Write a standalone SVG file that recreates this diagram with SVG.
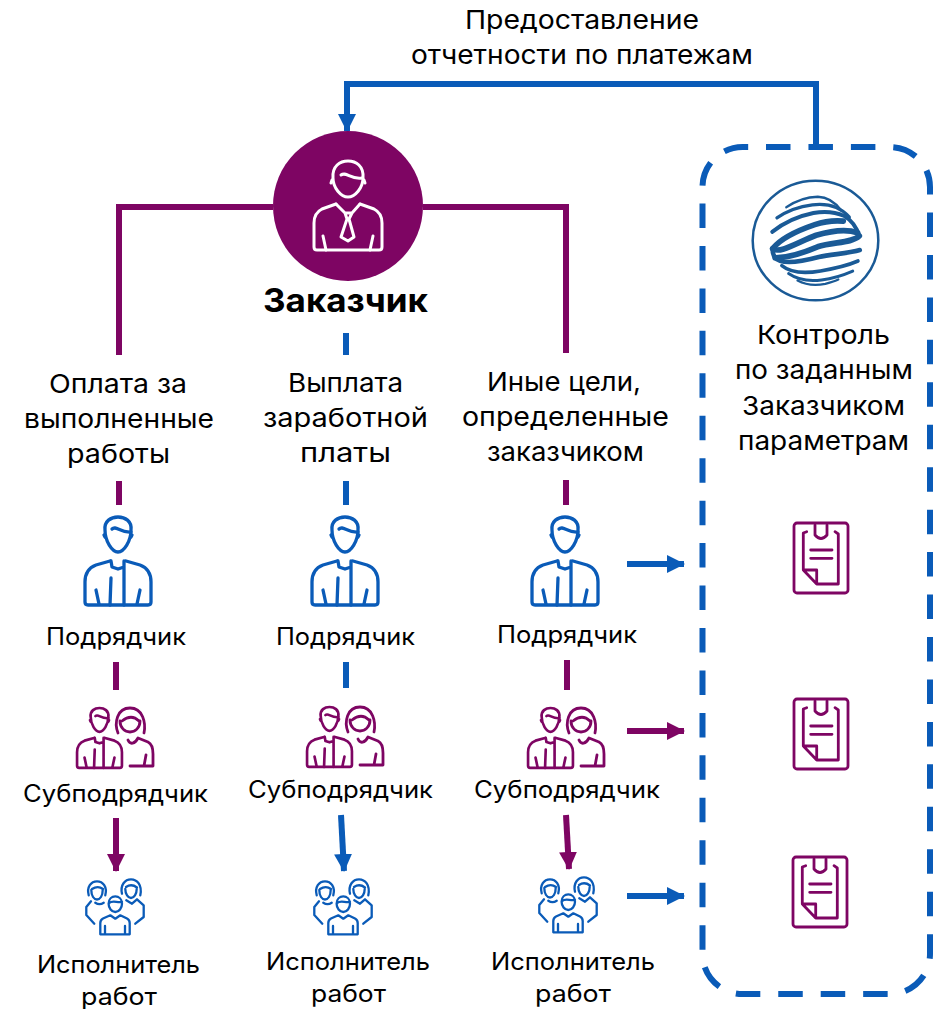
<svg xmlns="http://www.w3.org/2000/svg" xmlns:xlink="http://www.w3.org/1999/xlink" width="941" height="1009" viewBox="0 0 941 1009">
<style>
text{font-family:"Inter","Noto Sans","Liberation Sans",sans-serif;fill:#000;text-anchor:start}
.l{font-size:26px}.s{font-size:24px}
.ic{fill:none;stroke:currentColor;stroke-linecap:round;stroke-linejoin:round}
.b{color:#0a5bb8}.p{color:#7e0563}
.cb{fill:none;stroke:#0a5bb8;stroke-width:6}
.cp{fill:none;stroke:#7e0563;stroke-width:6}
.sw{fill:none;stroke:#1a5a96;stroke-linecap:round}
</style>
<defs>
<marker id="ab" markerUnits="userSpaceOnUse" markerWidth="20" markerHeight="20" refX="17" refY="10" orient="auto"><path d="M0,1L18,10L0,19Z" fill="#0a5bb8"/></marker>
<marker id="ap" markerUnits="userSpaceOnUse" markerWidth="20" markerHeight="20" refX="17" refY="10" orient="auto"><path d="M0,1L18,10L0,19Z" fill="#7e0563"/></marker>
<g id="man">
<path d="M-13,13C-14,4-7,0 0,0C7,0 14,4 13,13C13,24 6,35 0,35C-6,35-13,24-13,13Z"/>
<path d="M-14,18L-13,20M14,18L13,20M-6,12C-2,8 2,16 13,15"/>
<path d="M-8,44L-22,48C-30,51-33,57-33,65L-33,85Q-33,88-30,88L30,88Q33,88 33,85L33,65C33,57 30,51 22,48L8,44"/>
<path d="M-7,44L-6,50L0,52L6,50L6,44M-7,61L-8,88M6,50L6,88M-22,73L-19,87M22,73L19,87"/>
</g>
<g id="doc">
<rect x="0" y="0" width="54" height="70" rx="3"/>
<path d="M12.700,8.700L9.300,10L9.300,47L22.700,61L44.300,61L44.300,11L41,8.700M21,2L21,12Q27,19 33,12L33,2M16.700,27L38,27M16.700,35.300L38,35.300M9.300,47L22.700,47L22.700,61"/>
</g>
<g id="pair">
<use xlink:href="#man" transform="translate(22.500,0) scale(.68)" stroke-width="3.900"/>
<path d="M43,13C43,20 48,24 53,24C58,24 63,20 63,13"/>
<path d="M41,25C37,15 40,0 53,0C66,0 69,15 67,25M45,13C50,9 56,7 62,13"/>
<path d="M51,32C53,37 58,36 61,30L71,34C75,36 76,40 76,46L76,58L53,58M69,47L67,58"/>
</g>
<g id="crew">
<path d="M23.600,24.700C23.600,15 37,15 37,24.700C37,29 34,33 30.300,33C26.600,33 23.600,29 23.600,24.700ZM24,24C28,21 32,24 37,23"/>
<path d="M25.300,36.300L18,39.500C16,40.500 15.300,42 15.300,44L15.300,55.300L44.700,55.300L44.700,44C44.700,42 44,40.500 42,39.500L35.300,36.300L30.300,39.700ZM20,47L20,55M40,47L40,55"/>
<path d="M6.300,11C6.300,17 9,20.500 12,20.500C15,20.500 17.700,17 17.700,11M3.700,16.300C1.500,8 6,2.300 12,2.300C18,2.300 22.500,8 20.300,16.300M7,10C10,8 14,7 18,10"/>
<path d="M6,22.300L1.300,28L1.300,36L9.300,44.700M10.300,23.700Q14.500,26.500 18.700,23.700"/>
<path d="M40.300,10C40.300,15 43,19 46,19C49,19 51.700,15 51.700,10M37,14.700C35,6 40,0.300 46,0.300C52,0.300 57.500,6 55.300,16.300M41,8C44,6 48,5.500 52,8.500"/>
<path d="M41.300,21.300L47,24.700L52,20.300L58.700,26.300L58.700,38L50.300,44.700"/>
</g>
</defs>

<g id="connectors">
<path class="cb" d="M816,147L816,84L347,84L347,131" marker-end="url(#ab)"/>
<path class="cp" d="M273,207L119,207L119,355"/>
<path class="cp" d="M423,207L566,207L566,353"/>
<path class="cb" d="M346,333L346,355"/>
<path class="cp" d="M119,481L119,505"/><path class="cb" d="M346,481L346,505"/><path class="cp" d="M566,480L566,505"/>
<path class="cp" d="M116,662L116,690"/><path class="cb" d="M346,662L346,688"/><path class="cp" d="M567,660L567,690"/>
<path class="cp" d="M116,818L116,871" marker-end="url(#ap)"/>
<path class="cb" d="M341,815L344,871" marker-end="url(#ab)"/>
<path class="cp" d="M566,815L569,869" marker-end="url(#ap)"/>
<path class="cb" d="M627,564L684,564" marker-end="url(#ab)"/>
<path class="cp" d="M627,731L684,731" marker-end="url(#ap)"/>
<path class="cb" d="M627,896L684,896" marker-end="url(#ab)"/>
</g>

<g id="report-label">
<text class="l" x="465" y="29" textLength="234" lengthAdjust="spacingAndGlyphs">Предоставление</text>
<text class="l" x="411" y="64" textLength="342" lengthAdjust="spacingAndGlyphs">отчетности по платежам</text>
</g>

<g id="customer">
<circle cx="348" cy="206" r="75" fill="#7e0563"/>
<g class="ic" style="color:#fff" stroke-width="3">
<path d="M333,178C332,166 340,161 348,161C356,161 364,166 363,178C363,188 355,197 348,197C341,197 333,188 333,178Z"/>
<path d="M332,180L331,183M364,180L365,183M341,175C346,171 351,180 362,178"/>
<path d="M336,204L322,209C316,212 314,217 314,223L314,247Q314,250 317,250L379,250Q382,250 382,247L382,223C382,217 380,212 374,209L360,204"/>
<path d="M336,204L345,213L352,213L360,204M345,213L347,219L341,237L348,241L354,237L349,219L352,213M323,236L326,250M373,236L370,250"/>
</g>
<text x="263" y="312" font-size="33" font-weight="700" textLength="165" lengthAdjust="spacingAndGlyphs">Заказчик</text>
</g>

<g id="purpose-1">
<text class="l" x="49" y="393" textLength="138" lengthAdjust="spacingAndGlyphs">Оплата за</text>
<text class="l" x="24" y="428" textLength="190" lengthAdjust="spacingAndGlyphs">выполненные</text>
<text class="l" x="67" y="463" textLength="103" lengthAdjust="spacingAndGlyphs">работы</text>
</g>
<g id="purpose-2">
<text class="l" x="288" y="392" textLength="115" lengthAdjust="spacingAndGlyphs">Выплата</text>
<text class="l" x="263" y="427" textLength="165" lengthAdjust="spacingAndGlyphs">заработной</text>
<text class="l" x="300" y="462" textLength="91" lengthAdjust="spacingAndGlyphs">платы</text>
</g>
<g id="purpose-3">
<text class="l" x="487" y="391" textLength="154" lengthAdjust="spacingAndGlyphs">Иные цели,</text>
<text class="l" x="462" y="426" textLength="207" lengthAdjust="spacingAndGlyphs">определенные</text>
<text class="l" x="487" y="461" textLength="157" lengthAdjust="spacingAndGlyphs">заказчиком</text>
</g>

<g id="contractor-1"><use xlink:href="#man" class="ic b" stroke-width="3.300" x="118" y="517"/><text class="s" x="46" y="645" textLength="140" lengthAdjust="spacingAndGlyphs">Подрядчик</text></g>
<g id="contractor-2"><use xlink:href="#man" class="ic b" stroke-width="3.300" x="345" y="517"/><text class="s" x="276" y="645" textLength="139" lengthAdjust="spacingAndGlyphs">Подрядчик</text></g>
<g id="contractor-3"><use xlink:href="#man" class="ic b" stroke-width="3.300" x="565" y="517"/><text class="s" x="497" y="643" textLength="140" lengthAdjust="spacingAndGlyphs">Подрядчик</text></g>

<g id="subcontractor-1"><use xlink:href="#pair" class="ic p" stroke-width="2.800" x="77" y="708"/><text class="s" x="23" y="802" textLength="185" lengthAdjust="spacingAndGlyphs">Субподрядчик</text></g>
<g id="subcontractor-2"><use xlink:href="#pair" class="ic p" stroke-width="2.800" x="307" y="707"/><text class="s" x="248" y="798" textLength="185" lengthAdjust="spacingAndGlyphs">Субподрядчик</text></g>
<g id="subcontractor-3"><use xlink:href="#pair" class="ic p" stroke-width="2.800" x="528" y="708"/><text class="s" x="474" y="798" textLength="186" lengthAdjust="spacingAndGlyphs">Субподрядчик</text></g>

<g id="worker-1"><use xlink:href="#crew" class="ic b" stroke-width="2.300" x="85" y="879"/><text class="s" x="37" y="973" textLength="163" lengthAdjust="spacingAndGlyphs">Исполнитель</text><text class="s" x="81" y="1005" textLength="76" lengthAdjust="spacingAndGlyphs">работ</text></g>
<g id="worker-2"><use xlink:href="#crew" class="ic b" stroke-width="2.300" x="313" y="879"/><text class="s" x="266" y="970" textLength="164" lengthAdjust="spacingAndGlyphs">Исполнитель</text><text class="s" x="311" y="1002" textLength="75" lengthAdjust="spacingAndGlyphs">работ</text></g>
<g id="worker-3"><use xlink:href="#crew" class="ic b" stroke-width="2.300" x="538" y="877"/><text class="s" x="491" y="970" textLength="164" lengthAdjust="spacingAndGlyphs">Исполнитель</text><text class="s" x="535" y="1002" textLength="76" lengthAdjust="spacingAndGlyphs">работ</text></g>

<g id="bank">
<path d="M766,147L890,147A40,40 0 0 1 930,187L930,954A40,40 0 0 1 890,994L742.500,994A40,40 0 0 1 702.500,954L702.500,187A40,40 0 0 1 742.500,147Z" fill="none" stroke="#0a5bb8" stroke-width="6" stroke-dasharray="24.500 17.950"/>
<ellipse cx="815.500" cy="240.500" rx="62.800" ry="59.800" fill="none" stroke="#1a5a96" stroke-width="2.500"/>
<g transform="translate(750,178) scale(.3333) rotate(-7 197 185) translate(8,0) scale(.96,1)" class="sw">
<path stroke-width="7" d="M118,78C150,62 190,55 220,58C250,62 270,78 288,108"/>
<path stroke-width="10" d="M85,106C120,88 165,80 200,80C245,80 285,95 310,130"/>
<path stroke-width="12" d="M65,146C110,120 160,108 200,105C230,103 265,108 295,125C315,140 328,160 334,190"/>
<path stroke-width="17" d="M60,196C90,168 150,150 200,140C230,134 265,135 290,140"/>
<path stroke-width="17" d="M60,196C80,215 140,186 200,172C250,164 300,165 330,180"/>
<path stroke-width="17" d="M64,224C110,230 160,218 200,207C250,197 305,210 334,190"/>
<path stroke-width="14" d="M60,196C58,206 60,216 64,224C80,248 140,246 200,238C240,234 290,238 330,232"/>
<path stroke-width="11" d="M82,250C110,278 160,282 200,280C240,278 285,274 320,264"/>
<path stroke-width="9" d="M100,276C130,302 165,307 200,307C235,307 265,302 300,292"/>
<path stroke-width="7" d="M125,300C150,317 180,322 210,320C225,318 240,316 252,312"/>
</g>
<text class="l" x="757" y="344" textLength="133" lengthAdjust="spacingAndGlyphs">Контроль</text>
<text class="l" x="735" y="379" textLength="178" lengthAdjust="spacingAndGlyphs">по заданным</text>
<text class="l" x="742" y="415" textLength="163" lengthAdjust="spacingAndGlyphs">Заказчиком</text>
<text class="l" x="738" y="450" textLength="171" lengthAdjust="spacingAndGlyphs">параметрам</text>
<use xlink:href="#doc" class="ic p" stroke-width="2.800" x="794" y="523"/>
<use xlink:href="#doc" class="ic p" stroke-width="2.800" x="794" y="699"/>
<use xlink:href="#doc" class="ic p" stroke-width="2.800" x="793" y="857"/>
</g>
</svg>
